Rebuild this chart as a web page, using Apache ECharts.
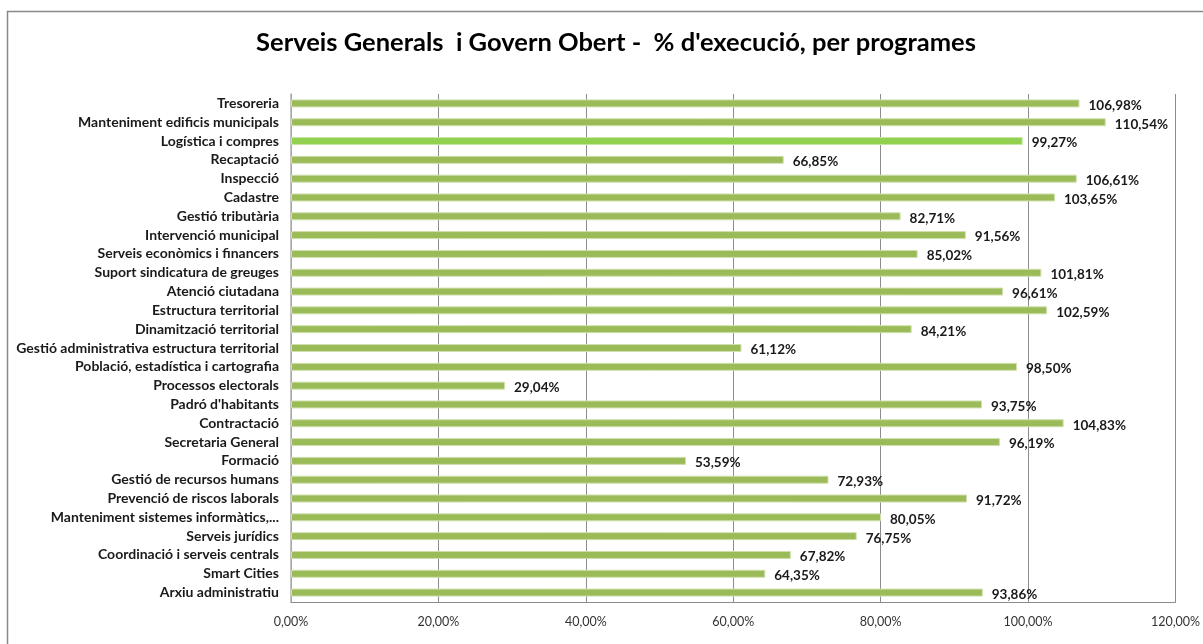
<!DOCTYPE html>
<html>
<head>
<meta charset="utf-8">
<script src="https://cdn.jsdelivr.net/npm/echarts@6/dist/echarts.min.js"></script>
<style>
  html, body { margin: 0; padding: 0; background: #fff; }
  #chart { width: 1203px; height: 644px; }
</style>
</head>
<body>
<div id="chart"></div>
<script>
// programes, de dalt a baix
const categories = [
  'Tresoreria',
  'Manteniment edificis municipals',
  'Logística i compres',
  'Recaptació',
  'Inspecció',
  'Cadastre',
  'Gestió tributària',
  'Intervenció municipal',
  'Serveis econòmics i financers',
  'Suport sindicatura de greuges',
  'Atenció ciutadana',
  'Estructura territorial',
  'Dinamització territorial',
  'Gestió administrativa estructura territorial',
  'Població, estadística i cartografia',
  'Processos electorals',
  "Padró d'habitants",
  'Contractació',
  'Secretaria General',
  'Formació',
  'Gestió de recursos humans',
  'Prevenció de riscos laborals',
  'Manteniment sistemes informàtics,...',
  'Serveis jurídics',
  'Coordinació i serveis centrals',
  'Smart Cities',
  'Arxiu administratiu',
]

// % d'execució
const execucio = [
  106.98, 110.54, 99.27, 66.85, 106.61, 103.65, 82.71, 91.56, 85.02,
  101.81, 96.61, 102.59, 84.21, 61.12, 98.50, 29.04, 93.75, 104.83,
  96.19, 53.59, 72.93, 91.72, 80.05, 76.75, 67.82, 64.35, 93.86,
]

const highlighted = ['Logística i compres']

const xTicks = [0, 20, 40, 60, 80, 100, 120]

const fmt = v => v.toFixed(2).replace('.', ',') + '%'

const chart = echarts.init(document.getElementById('chart'))

chart.setOption({
  animation: false,
  title: {
    text: "Serveis Generals  i Govern Obert -  % d'execució, per programes",
    left: 611,
    top: 25,
    textAlign: 'center',
    textStyle: { fontFamily: 'Lato', fontWeight: 'bold', fontSize: 25.5, color: '#000' },
  },
  graphic: [{
    type: 'rect',
    shape: { x: 7.5, y: 11.5, width: 1210, height: 700 },
    style: { fill: 'none', stroke: '#888', lineWidth: 1.5 },
    silent: true,
  }],
  grid: { left: 291, right: 27, top: 94, bottom: 42, containLabel: false },
  xAxis: {
    type: 'value',
    min: xTicks[0],
    max: xTicks[xTicks.length - 1],
    interval: 20,
    axisLine: { show: true, lineStyle: { color: '#8c8c8c' } },
    axisTick: { show: false },
    axisLabel: {
      formatter: v => fmt(v),
      fontFamily: 'Lato',
      fontSize: 12.5,
      color: '#333',
      margin: 13,
    },
    splitLine: { show: true, lineStyle: { color: '#8c8c8c', width: 1 } },
  },
  yAxis: {
    type: 'category',
    data: categories,
    inverse: true,
    axisLine: { show: true, lineStyle: { color: '#b0b0b0', width: 1.5 } },
    axisTick: { show: false },
    axisLabel: {
      fontFamily: 'Lato',
      fontWeight: 'bold',
      fontSize: 14,
      color: '#1a1a1a',
      margin: 12,
    },
  },
  series: [{
    type: 'bar',
    data: execucio.map((v, i) => ({
      value: v,
      itemStyle: highlighted.includes(categories[i])
        ? { color: '#92d050', borderColor: '#c6e8a0' }
        : { color: '#9bbb59', borderColor: '#cfe0ad' },
    })),
    barWidth: 8,
    itemStyle: { borderWidth: 1 },
    label: {
      show: true,
      position: 'right',
      distance: 9,
      offset: [0, 2],
      formatter: p => fmt(p.value),
      fontFamily: 'Lato',
      fontWeight: 'bold',
      fontSize: 13.5,
      color: '#1a1a1a',
    },
  }],
})
</script>
</body>
</html>
